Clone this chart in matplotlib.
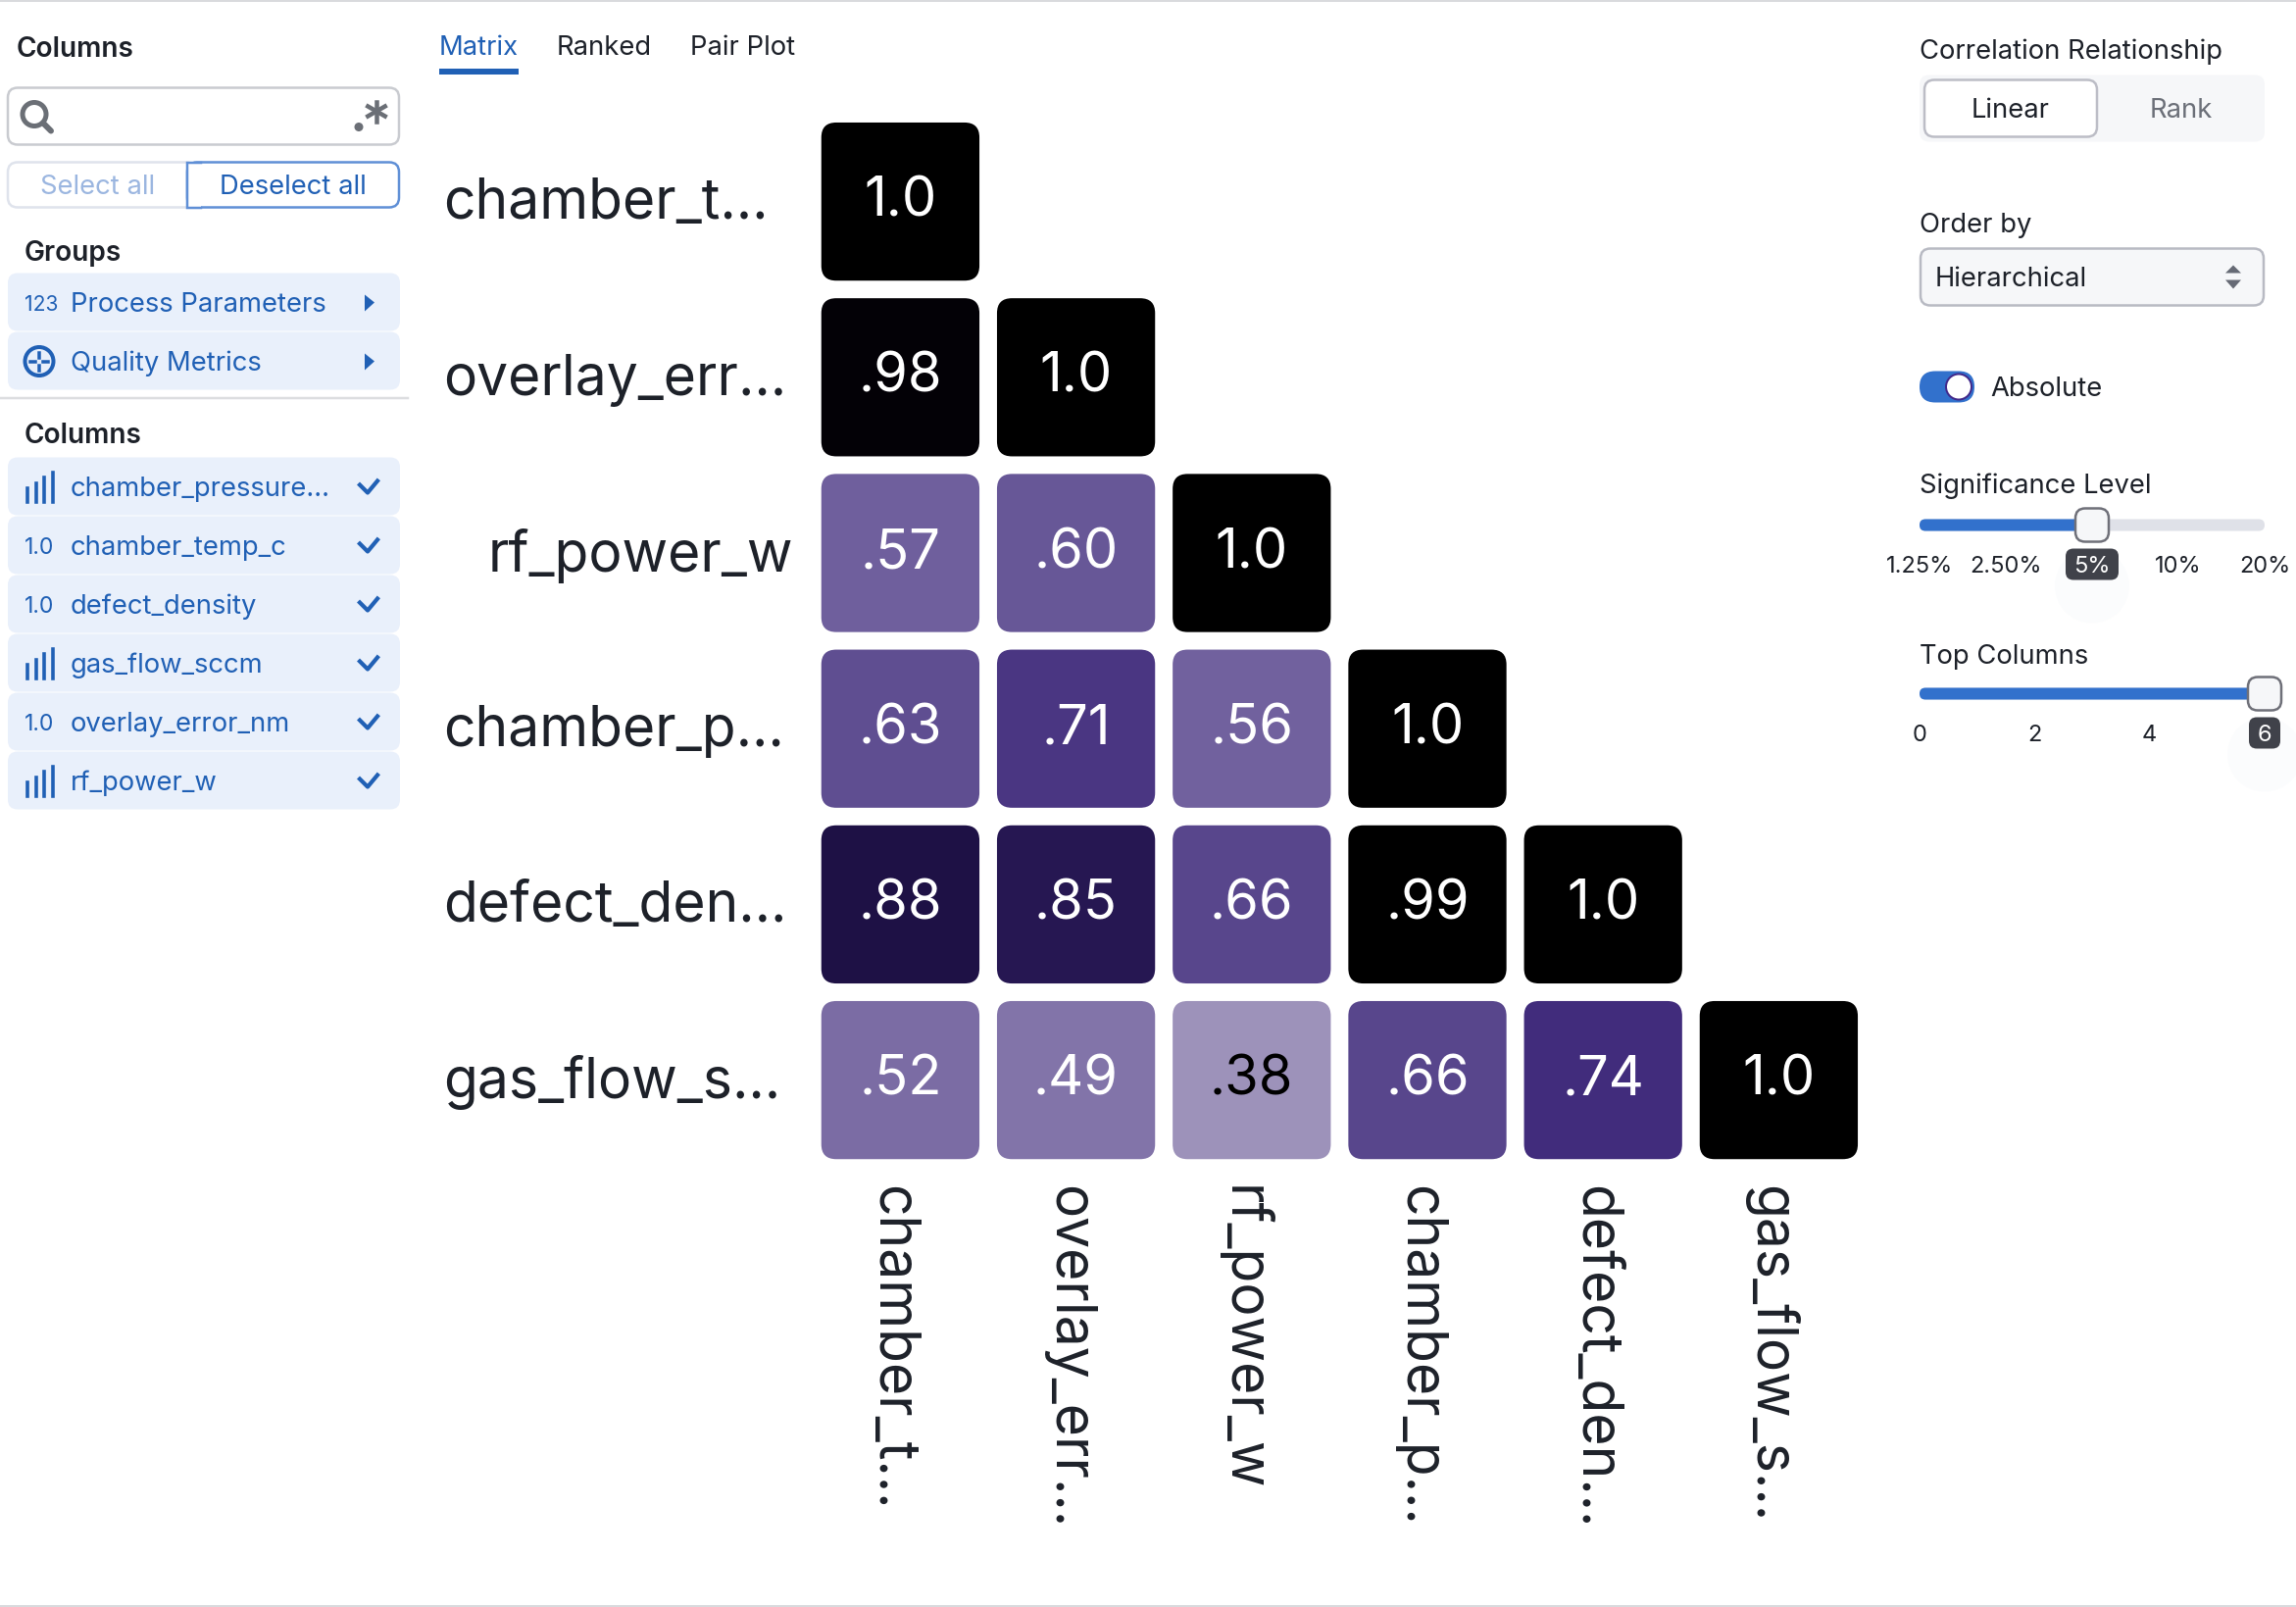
import matplotlib
matplotlib.use('Agg')
import matplotlib.pyplot as plt
from matplotlib.colors import LinearSegmentedColormap
from matplotlib.patches import Circle, FancyBboxPatch, Polygon

plt.rcParams['font.family'] = ['Inter', 'DejaVu Sans']

# --- data ---
row_labels = ['chamber_t…', 'overlay_err…', 'rf_power_w', 'chamber_p…', 'defect_den…', 'gas_flow_s…']
col_labels = ['chamber_t…', 'overlay_err…', 'rf_power_w', 'chamber_p…', 'defect_den…', 'gas_flow_s…']
corr_row0 = [1.0]
corr_row1 = [0.98, 1.0]
corr_row2 = [0.57, 0.60, 1.0]
corr_row3 = [0.63, 0.71, 0.56, 1.0]
corr_row4 = [0.88, 0.85, 0.66, 0.99, 1.0]
corr_row5 = [0.52, 0.49, 0.38, 0.66, 0.74, 1.0]
corr_rows = [corr_row0, corr_row1, corr_row2, corr_row3, corr_row4, corr_row5]

group_labels = ['Process Parameters', 'Quality Metrics']
column_labels = ['chamber_pressure...', 'chamber_temp_c', 'defect_density',
                 'gas_flow_sccm', 'overlay_error_nm', 'rf_power_w']
column_kinds = ['bars', 'num', 'num', 'bars', 'num', 'bars']
tab_labels = ['Matrix', 'Ranked', 'Pair Plot']
significance_ticks = ['1.25%', '2.50%', '5%', '10%', '20%']
significance_selected = 2
top_column_ticks = [0, 2, 4, 6]
top_column_selected = 6

# --- colours ---
DARK = '#1d2129'
BLUE = '#2060b5'
TRACK_BLUE = '#3271cc'
ROW_BG = '#e9f0fb'
cmap = LinearSegmentedColormap.from_list(
    'corr', [(0, '#ffffff'), (0.38, '#9d92ba'), (0.57, '#6f5f9d'), (0.66, '#58468c'),
             (0.74, '#412c7c'), (0.88, '#1f1147'), (0.99, '#000000'), (1, '#000000')])

W, H = 2342, 1640
fig = plt.figure(figsize=(W / 100, H / 100), dpi=100)

# the UI chrome is laid out in screen pixels
ax = fig.add_axes([0, 0, 1, 1])
ax.set_xlim(0, W)
ax.set_ylim(H - 1.5, -1.5)
ax.axis('off')


def px(v):
    return v * 0.72


def box(x0, y0, x1, y1, r=10, fc='white', ec='none', lw=0, z=2):
    p = FancyBboxPatch((x0, y0), x1 - x0, y1 - y0,
                       boxstyle='round,pad=0,rounding_size=%s' % r,
                       fc=fc, ec=ec, lw=px(lw), zorder=z)
    ax.add_patch(p)
    return p


def label(x, y, s, size=27.4, color=DARK, ha='left', weight='normal', z=5):
    ax.text(x, y + 1.5, s, fontsize=px(size), color=color, ha=ha, va='center',
            fontweight=weight, zorder=z)


# page edges
ax.plot([0, W], [-0.5, -0.5], color='#d9dadd', lw=px(3))
ax.plot([0, W], [1637, 1637], color='#d9dadd', lw=px(3))

# --- left panel ---
label(17, 48, 'Columns', size=28, weight='semibold')
box(8, 89, 407, 147, fc='white', ec='#c9cbd0', lw=2.5)
ax.add_patch(Circle((35, 116), 12, fc='none', ec='#6b6f76', lw=px(5), zorder=5))
ax.plot([44, 52], [125, 133], color='#6b6f76', lw=px(6), solid_capstyle='round', zorder=5)
ax.add_patch(Circle((366, 129), 4.5, fc='#6b6f76', ec='none', zorder=5))
for dx, dy in [(0, 10), (8.7, 5), (8.7, -5)]:
    ax.plot([384 - dx, 384 + dx], [113 - dy, 113 + dy], color='#6b6f76', lw=px(4.5), zorder=5)

box(8, 165, 200, 211, fc='white', ec='#dfe3ec', lw=2.5)
box(191, 165, 407, 211, fc='white', ec='#5f8fd6', lw=2.5, z=3)
# the join between the two buttons has square corners
ax.add_patch(Polygon([(191, 165), (205, 165), (205, 211), (191, 211)], fc='white', ec='none', zorder=3.5))
ax.plot([205, 191, 191, 205], [165, 165, 211, 211], color='#5f8fd6', lw=px(2.5),
        solid_joinstyle='miter', zorder=3.6)
label(100, 188, 'Select all', color='#9bb6e0', ha='center')
label(299, 188, 'Deselect all', color=BLUE, ha='center')

label(25, 255, 'Groups', size=28, weight='semibold')
for i, name in enumerate(group_labels):
    yc = 308 + i * 60
    box(8, yc - 30, 408, yc + 29, fc=ROW_BG)
    label(72, yc, name, color=BLUE)
    ax.add_patch(Polygon([(372, yc - 8), (382, yc), (372, yc + 9)], fc=BLUE, ec='none', zorder=5))
label(25, 308, '123', size=21, color=BLUE)
ax.add_patch(Circle((40, 368), 14.5, fc='none', ec=BLUE, lw=px(4), zorder=5))
for dx, dy in [(-1, 0), (1, 0), (0, -1), (0, 1)]:
    ax.plot([40 + dx * 4, 40 + dx * 9], [368 + dy * 4, 368 + dy * 9], color=BLUE, lw=px(3.5), zorder=5)

ax.plot([0, 416], [405.5, 405.5], color='#dcdde0', lw=px(2.5))
label(25, 442, 'Columns', size=28, weight='semibold')
for i, name in enumerate(column_labels):
    yc = 496 + i * 60
    box(8, yc - 30, 408, yc + 29, fc=ROW_BG)
    label(72, yc, name, color=BLUE)
    if column_kinds[i] == 'bars':
        for j, top in enumerate([7, 12, 18, 23]):
            ax.plot([28 + j * 8.6] * 2, [yc - top + 8, yc + 15], color=BLUE, lw=px(3.6), zorder=5)
    else:
        label(25, yc, '1.0', size=23, color=BLUE)
    ax.plot([367, 375, 385], [yc - 2, yc + 6, yc - 6], color=BLUE, lw=px(4.2), zorder=5)

# --- tabs ---
for name, x in zip(tab_labels, [448, 568, 704]):
    label(x, 46, name, color=BLUE if name == 'Matrix' else DARK)
ax.plot([448, 529], [72, 72], color=BLUE, lw=px(6), solid_capstyle='butt')

# --- right panel ---
label(1958, 50, 'Correlation Relationship')
box(1958, 76, 2310, 144, fc='#f6f7f9')
box(1963, 81, 2139, 139, fc='white', ec='#bcbdc6', lw=2.5, z=3)
label(2051, 110, 'Linear', ha='center')
label(2225, 110, 'Rank', color='#6b6f78', ha='center')

label(1958, 227, 'Order by')
box(1959, 253, 2309, 311, fc='#f6f7f9', ec='#b8bac3', lw=2.5)
label(1974, 282, 'Hierarchical')
ax.add_patch(Polygon([(2270, 278), (2278, 270), (2286, 278)], fc='#666a75', ec='none', zorder=5))
ax.add_patch(Polygon([(2270, 285), (2278, 294), (2286, 285)], fc='#666a75', ec='none', zorder=5))

box(1958, 378, 2014, 410, r=16, fc=TRACK_BLUE)
ax.add_patch(Circle((1998, 394), 13, fc='white', ec='#41288a', lw=px(2), zorder=5))
label(2030, 394, 'Absolute')

TRACK_L, TRACK_R = 1958, 2310


def slider(title, title_y, track_y, ticks, tick_x, sel_x, sel_text, tip_hw):
    label(1958, title_y, title)
    box(TRACK_L, track_y - 6, TRACK_R, track_y + 6, r=6, fc='#dfe1e8')
    box(TRACK_L, track_y - 6, sel_x, track_y + 6, r=6, fc=TRACK_BLUE, z=3)
    box(sel_x - 17, track_y - 17, sel_x + 17, track_y + 17, fc='#f6f7f9', ec='#6f7079', lw=2.5, z=4)
    tick_y = track_y + 40
    ax.add_patch(Circle((sel_x, tick_y + 22), 38, fc='#fbfcfd', ec='none', zorder=1))
    for text, x in zip(ticks, tick_x):
        if text != sel_text:
            label(x, tick_y, text, size=23.6, ha='center')
    box(sel_x - tip_hw, tick_y - 16, sel_x + tip_hw, tick_y + 16, r=8, fc='#40424a')
    label(sel_x, tick_y, sel_text, size=23.6, color='white', ha='center')


sig_x = [TRACK_L + i * (TRACK_R - TRACK_L) / (len(significance_ticks) - 1)
         for i in range(len(significance_ticks))]
slider('Significance Level', 493, 535, significance_ticks, sig_x, sig_x[significance_selected],
       significance_ticks[significance_selected], 27)

top_x = [TRACK_L + v / max(top_column_ticks) * (TRACK_R - TRACK_L) for v in top_column_ticks]
slider('Top Columns', 667, 707, [str(v) for v in top_column_ticks], top_x,
       top_x[top_column_ticks.index(top_column_selected)], str(top_column_selected), 16)

# --- correlation matrix ---
CELL = 179.2
M_L, M_T = 828.8, 117.0
ax_m = fig.add_axes([M_L / W, 1 - (M_T + 6 * CELL) / H, 6 * CELL / W, 6 * CELL / H])
ax_m.set_xlim(0, 6)
ax_m.set_ylim(6, 0)
ax_m.axis('off')
GAP = 0.05
for r, row in enumerate(corr_rows):
    for c, v in enumerate(row):
        ax_m.add_patch(FancyBboxPatch((c + GAP, r + GAP), 1 - 2 * GAP, 1 - 2 * GAP,
                                      boxstyle='round,pad=0,rounding_size=0.085',
                                      fc=cmap(v), ec='none'))
        txt = '1.0' if v == 1.0 else ('%.2f' % v)[1:]
        ax_m.text(c + 0.5, r + 0.495, txt, ha='center', va='center', fontsize=px(56),
                  color='black' if v < 0.45 else 'white')

# truncated names start flush left, whole names sit against the cells
for r, name in enumerate(row_labels):
    y = r + 0.51
    if name.endswith('…'):
        ax_m.text(-2.10, y, name, ha='left', va='center', fontsize=px(57), color=DARK, clip_on=False)
    else:
        ax_m.text(-0.11, y, name, ha='right', va='center', fontsize=px(57), color=DARK, clip_on=False)
for c, name in enumerate(col_labels):
    ax_m.text(c + 0.45, 6.095, name, ha='center', va='top', rotation=-90, fontsize=px(57),
              color=DARK, clip_on=False)

plt.savefig('out.png', dpi=100)
